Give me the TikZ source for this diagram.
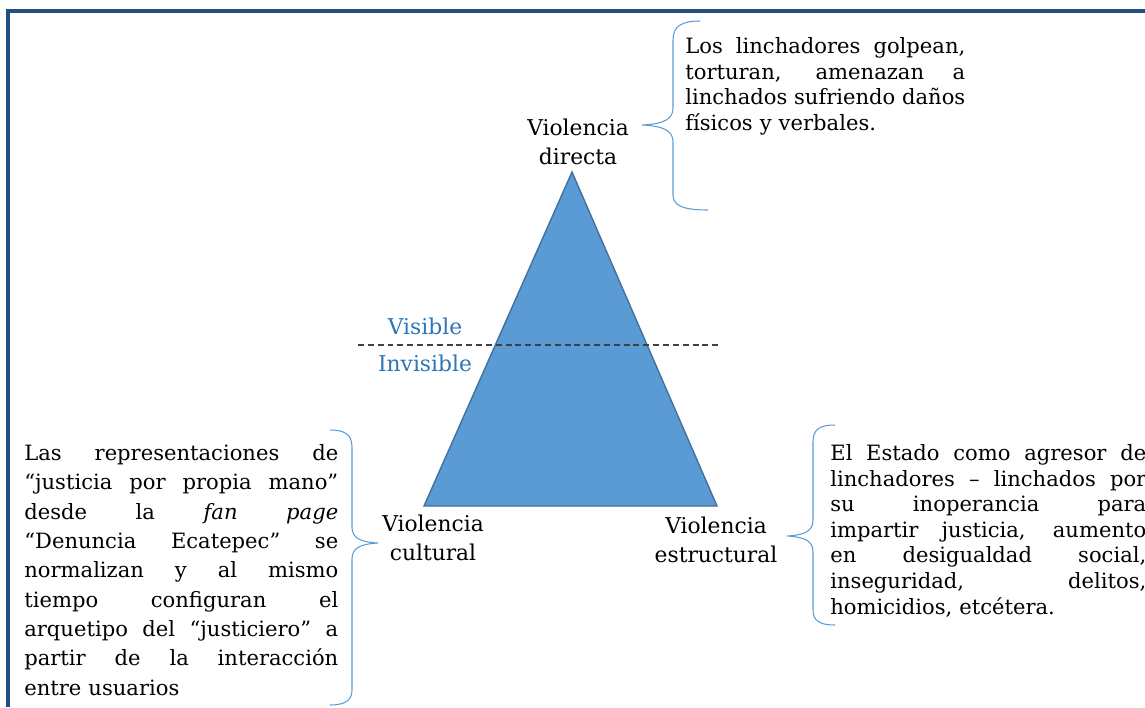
\documentclass[tikz,border=0pt]{standalone}
\usepackage{fontspec}
\setmainfont{DejaVu Serif}
\usetikzlibrary{positioning}

\definecolor{framecol}{RGB}{34,80,130}
\definecolor{trifill}{RGB}{91,155,213}
\definecolor{tridraw}{RGB}{65,113,156}
\definecolor{bracecol}{RGB}{91,155,213}
\definecolor{levelcol}{RGB}{46,117,182}

% one justified line of a text block
\newcommand{\fullline}[2][6.28cm]{\makebox[#1][s]{\spaceskip=\fontdimen2\font plus 1fil\relax #2}}

\begin{document}
\begin{tikzpicture}[
  x=0.02cm,
  y=-0.02cm,
  corner/.style={font=\fontsize{12.4}{16.5}\selectfont, align=center, inner sep=0pt},
  level/.style={font=\fontsize{12.4}{14}\selectfont, text=levelcol, inner sep=0pt},
  para/.style={font=\fontsize{12}{14.6}\selectfont, align=left, inner sep=0pt, anchor=north west},
  brace/.style={draw=bracecol, line width=0.6pt},
  frame/.style={draw=framecol, line width=1.8pt}
]
  \useasboundingbox (0,0) rectangle (1145,707);

  % The triangle of violence
  \coordinate (apex) at (572,172);
  \coordinate (bl) at (424,506);
  \coordinate (br) at (717,506);
  \draw[fill=trifill, draw=tridraw, line width=0.8pt] (apex) -- (bl) -- (br) -- cycle;

  % Visible / invisible limit
  \coordinate (limL) at (358,345);
  \coordinate (limR) at (718,345);
  \draw[black!75, line width=0.7pt, dash pattern=on 3.4pt off 2.2pt] (limL) -- (limR);
  \node[level] (visible) at (425,326) {Visible};
  \node[level] (invisible) at (425,363) {Invisible};

  % Corners
  \node[corner] (directa) at (578,142) {Violencia\\directa};
  \node[corner] (cultural) at (433,538) {Violencia\\cultural};
  \node[corner] (estructural) at (716,540) {Violencia\\estructural};

  % Descriptions
  \node[para, text width=5.6cm] (directos) at (685,37) {%
    \fullline[5.6cm]{Los linchadores golpean,}\\
    \fullline[5.6cm]{torturan, amenazan a}\\
    \fullline[5.6cm]{linchados sufriendo daños}\\
    físicos y verbales.};

  \node[para, text width=6.28cm, font=\fontsize{12}{16.7}\selectfont] (culturales) at (24,444) {%
    \fullline{Las representaciones de}\\
    \fullline{“justicia por propia mano”}\\
    \fullline{desde la \textit{fan page}}\\
    \fullline{“Denuncia Ecatepec” se}\\
    \fullline{normalizan y al mismo}\\
    \fullline{tiempo configuran el}\\
    \fullline{arquetipo del “justiciero” a}\\
    \fullline{partir de la interacción}\\
    entre usuarios};

  \node[para, text width=6.32cm] (estructurales) at (830,444) {%
    \fullline[6.32cm]{El Estado como agresor de}\\
    \fullline[6.32cm]{linchadores – linchados por}\\
    \fullline[6.32cm]{su inoperancia para}\\
    \fullline[6.32cm]{impartir justicia, aumento}\\
    \fullline[6.32cm]{en desigualdad social,}\\
    \fullline[6.32cm]{inseguridad, delitos,}\\
    homicidios, etcétera.};

  % Braces
  \coordinate (tipD) at (642,125);
  \coordinate (tipE) at (787,536);
  \coordinate (tipC) at (378,543);
  \draw[brace] (700,21) .. controls (682,21) and (673,26) .. (673,40) -- (673,108)
    .. controls (673,119) and (664,124) .. (tipD)
    .. controls (664,126) and (673,131) .. (673,142) -- (673,195)
    .. controls (673,206) and (684,210) .. (708,210);
  \draw[brace] (835,425) .. controls (820,425) and (813,429) .. (813,442) -- (813,520)
    .. controls (813,531) and (805,535) .. (tipE)
    .. controls (805,537) and (813,541) .. (813,552) -- (813,610)
    .. controls (813,621) and (820,625) .. (835,625);
  \draw[brace] (330,430) .. controls (344,430) and (352,434) .. (352,447) -- (352,527)
    .. controls (352,538) and (360,542) .. (tipC)
    .. controls (360,544) and (352,548) .. (352,559) -- (352,690)
    .. controls (352,701) and (344,705) .. (330,705);

  % Frame
  \draw[frame] (8,707) -- (8,11) -- (1145,11);

\end{tikzpicture}
\end{document}
